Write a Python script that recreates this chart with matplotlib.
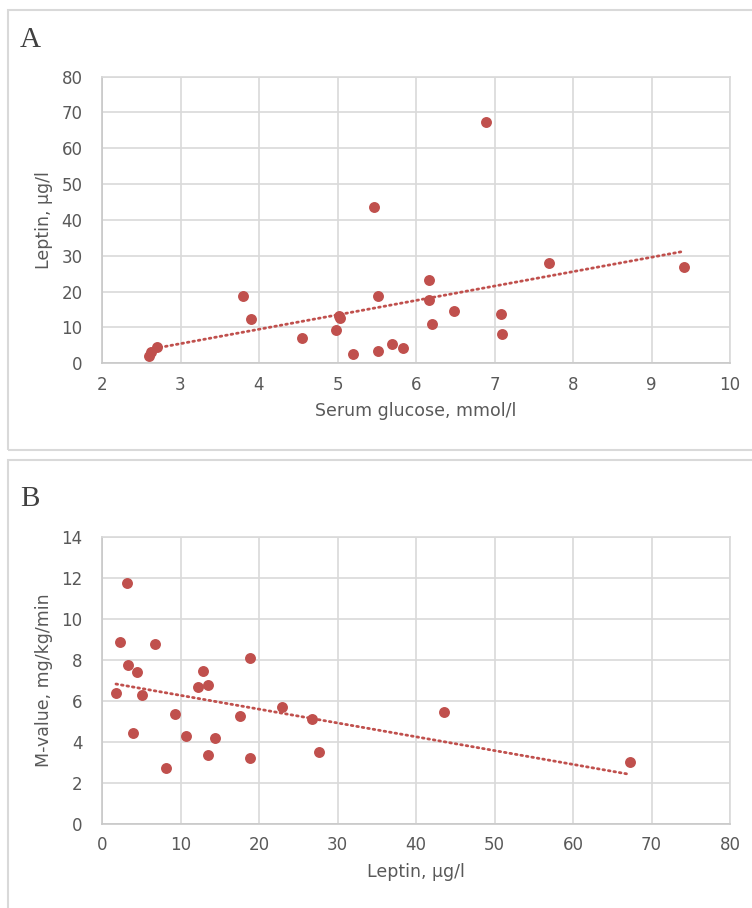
import numpy as np
import matplotlib
matplotlib.use("Agg")
import matplotlib.pyplot as plt
from matplotlib.patches import Rectangle

# Panel A: serum glucose (mmol/l) vs leptin (ug/l)
glucose = [2.60, 2.62, 2.70, 3.80, 3.90, 4.55, 4.98, 5.02, 5.03, 5.20, 5.47, 5.51,
           5.51, 5.70, 5.84, 6.16, 6.17, 6.20, 6.48, 6.89, 7.08, 7.10, 7.70, 9.42]
leptin_a = [2.0, 3.2, 4.5, 18.9, 12.4, 7.0, 9.3, 13.3, 12.6, 2.5, 43.5, 18.9,
            3.3, 5.4, 4.2, 23.2, 17.7, 10.9, 14.6, 67.3, 13.7, 8.1, 27.9, 26.8]

# Panel B: leptin (ug/l) vs M-value (mg/kg/min)
leptin_b = [3.23, 2.29, 6.79, 3.35, 4.42, 18.9, 12.87, 12.27, 13.46, 1.78, 5.14, 9.26,
            17.58, 22.93, 26.71, 3.95, 10.74, 14.44, 13.55, 18.85, 27.64, 8.11, 43.6, 67.26]
m_value = [11.79, 8.89, 8.79, 7.76, 7.42, 8.12, 7.47, 6.70, 6.80, 6.40, 6.30, 5.37,
           5.26, 5.71, 5.13, 4.44, 4.28, 4.18, 3.35, 3.21, 3.52, 2.72, 5.45, 3.01]

W, H = 752, 908
RED = '#C0504D'
GRID = '#D9D9D9'
TXT = '#595959'

fig = plt.figure(figsize=(W / 100, H / 100), dpi=100)
fig.patch.set_facecolor('white')

# panel frames
fig.patches.append(Rectangle((8 / W, 1 - 450 / H), 760 / W, 440 / H, transform=fig.transFigure,
                             fill=False, edgecolor=GRID, linewidth=1.5))
fig.patches.append(Rectangle((8 / W, 1 - 920 / H), 760 / W, 460 / H, transform=fig.transFigure,
                             fill=False, edgecolor=GRID, linewidth=1.5))


def setup(ax, x, y, xlim, ylim, xstep, ystep, xlabel, ylabel):
    ax.set_xlim(*xlim)
    ax.set_ylim(*ylim)
    ax.set_xticks(np.arange(xlim[0], xlim[1] + 0.001, xstep))
    ax.set_yticks(np.arange(ylim[0], ylim[1] + 0.001, ystep))
    ax.grid(True, color=GRID, linewidth=1.2)
    ax.set_axisbelow(True)
    for s in ax.spines.values():
        s.set_color(GRID)
        s.set_linewidth(1.2)
    ax.spines['left'].set_color('#C8C8C8')
    ax.spines['bottom'].set_color('#C8C8C8')
    ax.tick_params(length=0, labelsize=12, colors=TXT, pad=9)
    ax.tick_params(axis='y', pad=14)
    ax.set_xlabel(xlabel, fontsize=12.5, color=TXT, labelpad=6)
    ax.set_ylabel(ylabel, fontsize=12.5, color=TXT, labelpad=6)
    ax.scatter(x, y, s=62, color=RED, zorder=3, linewidths=0)
    xa = np.asarray(x)
    k, b = np.polyfit(xa, np.asarray(y), 1)
    xs = np.array([xa.min(), xa.max()])
    ax.plot(xs, k * xs + b, color=RED, linewidth=2.0, linestyle=(0, (0.6, 1.4)),
            dash_capstyle='round', zorder=2)


axA = fig.add_axes([102 / W, 1 - 363.3 / H, 628 / W, 286.7 / H])
setup(axA, glucose, leptin_a, (2, 10), (0, 80), 1, 10, 'Serum glucose, mmol/l', 'Leptin, µg/l')

axB = fig.add_axes([102 / W, 1 - 824 / H, 628 / W, 286.7 / H])
setup(axB, leptin_b, m_value, (0, 80), (0, 14), 10, 2, 'Leptin, µg/l', 'M-value, mg/kg/min')

fig.text(20 / W, 1 - 40 / H, 'A', fontsize=21, family='Liberation Serif', color='#404040', va='center')
fig.text(20 / W, 1 - 499 / H, 'B', fontsize=21, family='Liberation Serif', color='#404040', va='center')

fig.savefig('out.png', dpi=100, facecolor='white')
